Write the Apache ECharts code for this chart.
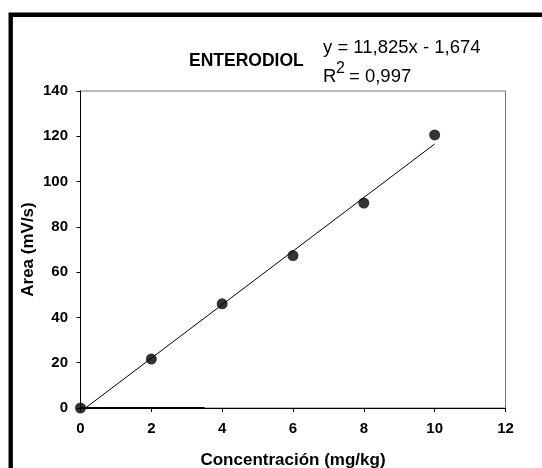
<!DOCTYPE html>
<html>
<head>
<meta charset="utf-8">
<script src="https://cdn.jsdelivr.net/npm/echarts@6/dist/echarts.min.js"></script>
<style>
html,body{margin:0;padding:0;background:#fff;}
#c{width:542px;height:468px;}
</style>
</head>
<body>
<div id="c"></div>
<script>
// Data
var concentrations = [0, 2, 4, 6, 8, 10];
var areas = [0, 21.6, 46.0, 67.3, 90.5, 120.6];
var fitLine = [[0.14, 0], [10, 116.6]];     // y = 11,825x - 1,674 (clipped at y = 0)
var baseSegment = [[0, 0], [3.5, 0]];
var xTicks = [0, 2, 4, 6, 8, 10, 12];
var yTicks = [0, 20, 40, 60, 80, 100, 120, 140];
var titleText = 'ENTERODIOL';
var eqLine1 = 'y = 11,825x - 1,674';
var eqR = 'R';
var eqSup = '2';
var eqRest = '= 0,997';

var FONT = '"Liberation Sans", Arial, sans-serif';
var points = concentrations.map(function (c, i) { return [c, areas[i]]; });

var chart = echarts.init(document.getElementById('c'), null, {renderer: 'canvas'});
chart.setOption({
  animation: false,
  backgroundColor: '#fff',
  grid: {left: 80.5, right: 36.5, top: 91, bottom: 60, containLabel: false, outerBoundsMode: 'none',
         show: true, borderColor: '#777', borderWidth: 1, backgroundColor: 'transparent'},
  xAxis: {
    type: 'value', min: xTicks[0], max: xTicks[xTicks.length - 1], interval: 2,
    axisLine: {show: true, onZero: false, lineStyle: {color: '#000', width: 1}},
    axisTick: {show: true, inside: false, length: 4, lineStyle: {color: '#000'}},
    axisLabel: {color: '#000', fontWeight: 'bold', fontSize: 15, fontFamily: FONT, margin: 13},
    splitLine: {show: false},
    name: 'Concentración (mg/kg)', nameLocation: 'middle', nameGap: 44, nameMoveOverlap: false,
    nameTextStyle: {color: '#000', fontWeight: 'bold', fontSize: 17, fontFamily: FONT}
  },
  yAxis: {
    type: 'value', min: yTicks[0], max: yTicks[yTicks.length - 1], interval: 20,
    axisLine: {show: true, onZero: false, lineStyle: {color: '#000', width: 1}},
    axisTick: {show: true, inside: false, length: 4, lineStyle: {color: '#000'}},
    axisLabel: {color: '#000', fontWeight: 'bold', fontSize: 15, fontFamily: FONT, margin: 12.5},
    splitLine: {show: false},
    name: 'Area (mV/s)', nameLocation: 'middle', nameGap: 44, nameMoveOverlap: false,
    nameTextStyle: {color: '#000', fontWeight: 'bold', fontSize: 17, fontFamily: FONT}
  },
  series: [
    {type: 'line', data: baseSegment, showSymbol: false, symbol: 'none', lineStyle: {color: '#000', width: 2}, z: 3},
    {type: 'line', data: fitLine, showSymbol: false, symbol: 'none', lineStyle: {color: '#000', width: 1}, z: 3},
    {type: 'scatter', data: points, symbol: 'circle', symbolSize: 11, itemStyle: {color: '#000'}, z: 4}
  ],
  graphic: [
    {type: 'rect', shape: {x: 10.7, y: 14.7, width: 560, height: 500}, style: {fill: 'none', stroke: '#000', lineWidth: 4.4}, silent: true},
    {type: 'text', left: 189, top: 52, style: {text: titleText, font: 'bold 17.5px ' + FONT, fill: '#000'}},
    {type: 'text', left: 323, top: 38, style: {text: eqLine1, font: '18.5px ' + FONT, fill: '#000'}},
    {type: 'text', left: 323, top: 67, style: {text: eqR, font: '18.5px ' + FONT, fill: '#000'}},
    {type: 'text', left: 336, top: 61, style: {text: eqSup, font: '16px ' + FONT, fill: '#000'}},
    {type: 'text', left: 349, top: 67, style: {text: eqRest, font: '18.5px ' + FONT, fill: '#000'}}
  ]
});
</script>
</body>
</html>
